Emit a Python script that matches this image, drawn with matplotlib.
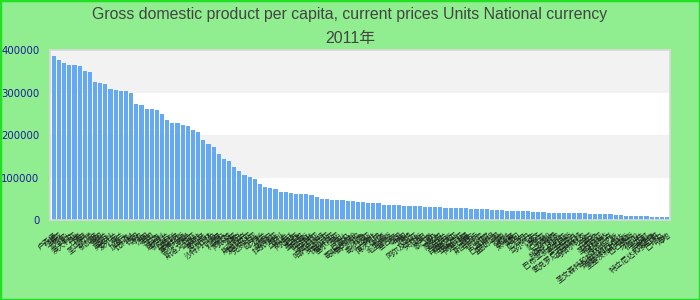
import numpy as np
import matplotlib
matplotlib.use("Agg")
import matplotlib.pyplot as plt
from matplotlib.patches import Rectangle

plt.rcParams['font.family'] = ['Liberation Sans', 'Noto Sans CJK SC', 'DejaVu Sans']

# country labels (illegible in the reference, Chinese names)
countries = ["卢森堡", "挪威", "卡塔尔", "瑞士", "澳大利亚", "丹麦", "瑞典", "圣马力诺", "新加坡", "美国",
             "荷兰", "奥地利", "爱尔兰", "芬兰", "加拿大", "比利时", "德国", "冰岛", "法国", "英国",
             "日本", "意大利", "新西兰", "以色列", "西班牙", "塞浦路斯", "希腊", "斯洛文尼亚", "马耳他", "葡萄牙",
             "巴林", "沙特阿拉伯", "阿曼", "科威特", "阿联酋", "文莱", "捷克", "斯洛伐克", "爱沙尼亚", "克罗地亚",
             "匈牙利", "波兰", "立陶宛", "拉脱维亚", "智利", "乌拉圭", "阿根廷", "巴西", "墨西哥", "俄罗斯",
             "土耳其", "马来西亚", "哈萨克斯坦", "罗马尼亚", "保加利亚", "塞尔维亚", "黑山", "巴拿马", "哥斯达黎加", "委内瑞拉",
             "秘鲁", "哥伦比亚", "南非", "博茨瓦纳", "加蓬", "毛里求斯", "塞舌尔", "泰国", "中国", "伊朗",
             "阿尔及利亚", "突尼斯", "约旦", "黎巴嫩", "埃及", "摩洛哥", "乌克兰", "白俄罗斯", "格鲁吉亚", "亚美尼亚",
             "阿塞拜疆", "蒙古", "斯里兰卡", "菲律宾", "印度", "巴基斯坦", "孟加拉国", "越南", "老挝", "柬埔寨",
             "缅甸", "尼泊尔", "不丹", "马尔代夫", "斐济", "萨摩亚", "汤加", "瓦努阿图", "所罗门群岛", "巴布亚新几内亚",
             "基里巴斯", "图瓦卢", "密克罗尼西亚联邦", "马绍尔群岛", "帕劳", "东帝汶", "圣卢西亚", "格林纳达", "多米尼克", "圣文森特和格林纳丁斯",
             "安提瓜和巴布达", "圣基茨和尼维斯", "巴巴多斯", "牙买加", "伯利兹", "圭亚那", "苏里南", "特立尼达和多巴哥", "巴哈马", "海地"]

gdp_pc = [386500, 377000, 370000, 365500, 365000, 363000, 351000, 349000, 325000, 323000,
          320500, 309000, 306000, 304500, 304000, 299000, 273000, 271000, 262500, 262000,
          259000, 250000, 236000, 229500, 229000, 224000, 222000, 212000, 207000, 189000,
          179000, 172000, 156000, 144000, 139000, 125000, 115000, 106000, 101000, 97000,
          85000, 78000, 75000, 73000, 66500, 66000, 64000, 61500, 61200, 61000,
          59000, 54000, 49800, 49500, 47300, 47100, 46900, 45200, 45000, 42300,
          42000, 40300, 40100, 39900, 35400, 35200, 35000, 34800, 33300, 33100,
          32900, 32700, 31300, 31100, 30900, 30700, 28400, 28200, 28000, 27900,
          27700, 26200, 26000, 25900, 25700, 23700, 23500, 23300, 21400, 21200,
          21000, 20900, 20700, 19200, 19000, 18800, 16900, 16800, 16700, 16600,
          16500, 16400, 16300, 16200, 14200, 14100, 14000, 13900, 13800, 11900,
          11700, 9600, 9500, 9400, 9300, 9200, 7200, 7100, 7000, 6900]

title_line1 = "Gross domestic product per capita, current prices Units National currency"
title_line2 = "2011年"
yticks = [0, 100000, 200000, 300000, 400000]

fig = plt.figure(figsize=(7, 3), dpi=100)
fig.patch.set_facecolor('#90ee90')
fig.patches.append(Rectangle((0, 0), 1, 1, transform=fig.transFigure, fill=False,
                             edgecolor='#22e022', linewidth=2.5))

ax = fig.add_axes([0.0714, 0.2667, 0.8857, 0.5656])
ax.set_facecolor('white')

# alternating bands
for i in range(len(yticks) - 1):
    if i % 2 == 1:
        ax.axhspan(yticks[i], yticks[i + 1], color='#f2f2f2', zorder=0, lw=0)

x = np.arange(len(gdp_pc))
ax.bar(x, gdp_pc, width=0.8, color='#64a9f2', zorder=2)
ax.set_xlim(-0.75, len(gdp_pc) - 0.45)
ax.set_ylim(0, 400000)

ax.set_yticks(yticks)
ax.set_yticklabels([str(v) for v in yticks], color='#1a1a99', fontsize=7.3,
                   family=['DejaVu Sans'])
ax.tick_params(axis='y', length=0, pad=7.5)

ax.set_xticks(x)
ax.set_xticklabels(countries, rotation=38, ha='right', rotation_mode='anchor',
                   fontsize=5.5, color='#1a1a1a', family=['Noto Sans CJK SC', 'DejaVu Sans'])
ax.tick_params(axis='x', length=0, pad=8)

for s in ax.spines.values():
    s.set_color('#d9d9d9')
    s.set_linewidth(1.2)

fig.text(0.5, 0.953, title_line1, ha='center', va='center', fontsize=11.4, color='#444444')
fig.text(0.5, 0.873, title_line2, ha='center', va='center', fontsize=11.4, color='#444444')

fig.savefig('out.png', dpi=100, facecolor=fig.get_facecolor())
